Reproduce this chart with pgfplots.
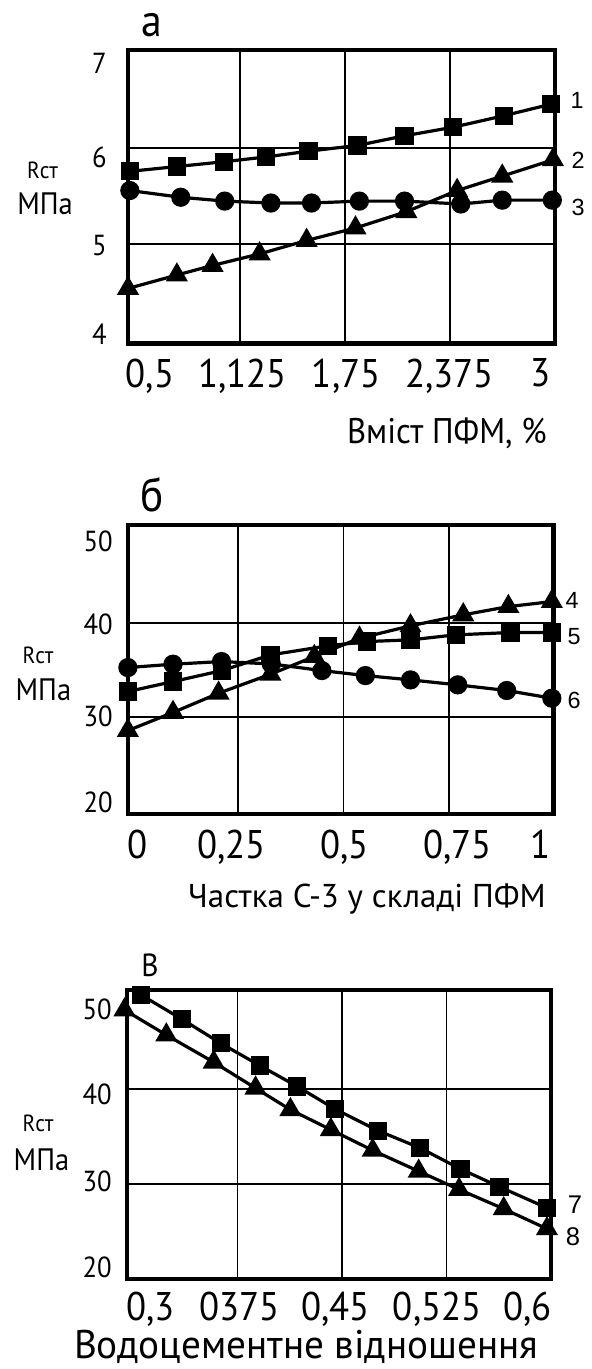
\documentclass[border=0pt]{standalone}
\usepackage{fontspec}
\setmainfont{PT Sans}[FakeStretch=0.92]
\newfontfamily\lblB{PT Sans}[FakeStretch=1.0]
\newfontfamily\lblC{PT Sans}[FakeStretch=0.98]
\newfontfamily\arialfont{Liberation Sans}
\usepackage{pgfplots}
\pgfplotsset{compat=1.18}
\pgfplotsset{
  panel/.style={
    scale only axis, anchor=south west, clip=false,
    axis line style={line width=2.3pt, black},
    grid=major, major grid style={line width=0.9pt, black},
    major tick length=0pt, minor tick length=0pt,
    tick style={draw=none},
    extra tick style={grid=none, major tick length=0pt},
    xticklabel style={anchor=north, inner sep=0pt, font=\fontsize{20}{20}\selectfont},
    yticklabel style={anchor=east, inner sep=0pt, font=\fontsize{14.5}{14.5}\selectfont},
    /pgf/number format/assume math mode=true,
  },
  sq/.style={black, line width=1.6pt, mark=square*, mark size=3.75pt, mark options={solid}},
  ci/.style={black, line width=1.6pt, mark=*, mark size=4pt, mark options={solid}},
  tr/.style={black, line width=1.6pt, mark=triangle*, mark size=4.8pt, mark options={solid}},
}
\begin{document}
\begin{tikzpicture}
\path[use as bounding box] (0,0) rectangle (296pt,-684.5pt);

% ---------- panel a ----------
\begin{axis}[panel, at={(64pt,-171.65pt)}, width=213.5pt, height=146.65pt,
  xmin=0.462, xmax=2.996, ymin=3.969, ymax=7.024,
  xtick={1.125,1.75,2.375}, xticklabels={{},{},{}},
  ytick={5,6}, yticklabels={{},{}},
  extra x ticks={0.593,1.143,1.757,2.371,2.912},
  extra x tick labels={{0,5},{1,125},{1,75},{2,375},{3}},
  extra y ticks={4.06,4.99,5.91,6.89},
  extra y tick labels={4,5,6,7},
  xticklabel style={yshift=-7.5pt},
  yticklabel style={xshift=-10.5pt}]
\addplot[sq] table {
0.473 5.76
0.752 5.81
1.031 5.86
1.281 5.91
1.533 5.97
1.824 6.03
2.103 6.13
2.393 6.22
2.694 6.34
2.973 6.46
};
\addplot[tr] table {
0.462 4.54
0.752 4.68
0.964 4.78
1.243 4.90
1.522 5.04
1.812 5.17
2.114 5.34
2.415 5.56
2.683 5.71
2.984 5.88
};
\addplot[ci] table {
0.473 5.56
0.775 5.49
1.036 5.45
1.310 5.43
1.551 5.43
1.835 5.45
2.103 5.45
2.437 5.42
2.683 5.46
2.980 5.46
};
\end{axis}

% ---------- panel b ----------
\begin{axis}[panel, at={(64pt,-407pt)}, width=212.75pt, height=144.5pt,
  xmin=-0.0107, xmax=0.998, ymin=19.7, ymax=50.45,
  xtick={0.25,0.5,0.75}, xticklabels={{},{},{}},
  ytick={30,40}, yticklabels={{},{}},
  extra x ticks={0.0116,0.235,0.503,0.771,0.967},
  extra x tick labels={{0},{0,25},{0,5},{0,75},{1}},
  extra y ticks={20.9,30.1,39.9,48.7},
  extra y tick labels={20,30,40,50},
  xticklabel style={yshift=-8pt},
  yticklabel style={xshift=-7.5pt}]
\addplot[tr] table {
-0.011 28.58
0.096 30.50
0.204 32.55
0.327 34.57
0.431 36.45
0.538 38.40
0.659 39.72
0.784 40.89
0.891 41.77
0.994 42.30
};
\addplot[sq] table {
-0.011 32.73
0.096 33.79
0.212 34.96
0.327 36.63
0.463 37.59
0.556 38.05
0.659 38.23
0.766 38.76
0.896 39.01
0.994 39.01
};
\addplot[ci] table {
-0.011 35.28
0.096 35.64
0.211 35.92
0.329 35.67
0.449 34.96
0.552 34.43
0.659 33.97
0.771 33.44
0.887 32.84
0.994 32.02
};
\end{axis}

% ---------- panel c ----------
\begin{axis}[panel, at={(63.5pt,-639.5pt)}, width=212pt, height=144.5pt,
  xmin=0.2958, xmax=0.5999, ymin=20, ymax=50.39,
  xtick={0.375,0.45,0.525}, xticklabels={{},{},{}},
  ytick={30,40}, yticklabels={{},{}},
  extra x ticks={0.3128,0.3764,0.4453,0.5183,0.5831},
  extra x tick labels={{0,3},{0375},{0,45},{0,525},{0,6}},
  extra y ticks={21.2,30.3,39.4,48.4},
  extra y tick labels={20,30,40,50},
  xticklabel style={yshift=-6.5pt},
  yticklabel style={xshift=-7.5pt}]
\addplot[sq] table {
0.306 49.86
0.335 47.34
0.363 44.79
0.391 42.45
0.418 40.24
0.445 37.87
0.476 35.59
0.506 33.78
0.535 31.57
0.563 29.69
0.597 27.48
};
\addplot[tr] table {
0.294 48.29
0.324 45.66
0.358 42.80
0.388 40.07
0.413 37.80
0.442 35.70
0.472 33.53
0.505 31.33
0.534 29.41
0.566 27.38
0.597 25.28
};
\end{axis}

% ---------- texts ----------
\begin{scope}[x=0.5pt,y=-0.5pt]
\node[font=\fontsize{22.7}{23}\selectfont, inner sep=0pt] at (151.7,25) {а};
\node[font=\fontsize{23.5}{24}\selectfont, inner sep=0pt] at (151.7,495) {б};
\node[font=\fontsize{16}{16}\selectfont, inner sep=0pt] at (150,965) {В};

\foreach \yr/\ym/\xr/\xm in {170/204/42.5/45, 655/690/38/43.4, 1123/1160/38/41.5}{
  \node[font=\fontsize{11.7}{12}\selectfont, inner sep=0pt] at (\xr,\yr) {Rст};
  \node[font=\fontsize{15.5}{16}\selectfont, inner sep=0pt] at (\xm,\ym) {МПа};
}

\node[font=\fontsize{17.8}{18}\selectfont, inner sep=0pt, anchor=base east] at (547,443) {Вміст ПФМ, \%};
\node[font=\lblB\fontsize{16.5}{17}\selectfont, inner sep=0pt, anchor=base east] at (546,907) {Частка С-3 у складі ПФМ};
\node[font=\lblC\fontsize{20}{20}\selectfont, inner sep=0pt, anchor=base] at (306,1358) {Водоцементне відношення};

\begin{scope}[every node/.style={font=\arialfont\fontsize{11.7}{12}\selectfont, inner sep=0pt}]
\node at (577,100) {1};
\node at (578,160) {2};
\node at (578,207) {3};
\node at (572,600) {4};
\node at (574,637) {5};
\node at (574,700) {6};
\end{scope}
\node[font=\arialfont\fontsize{12.8}{13}\selectfont, inner sep=0pt] at (575,1205) {7};
\node[font=\arialfont\fontsize{12.8}{13}\selectfont, inner sep=0pt] at (573,1237) {8};
\end{scope}
\end{tikzpicture}
\end{document}
